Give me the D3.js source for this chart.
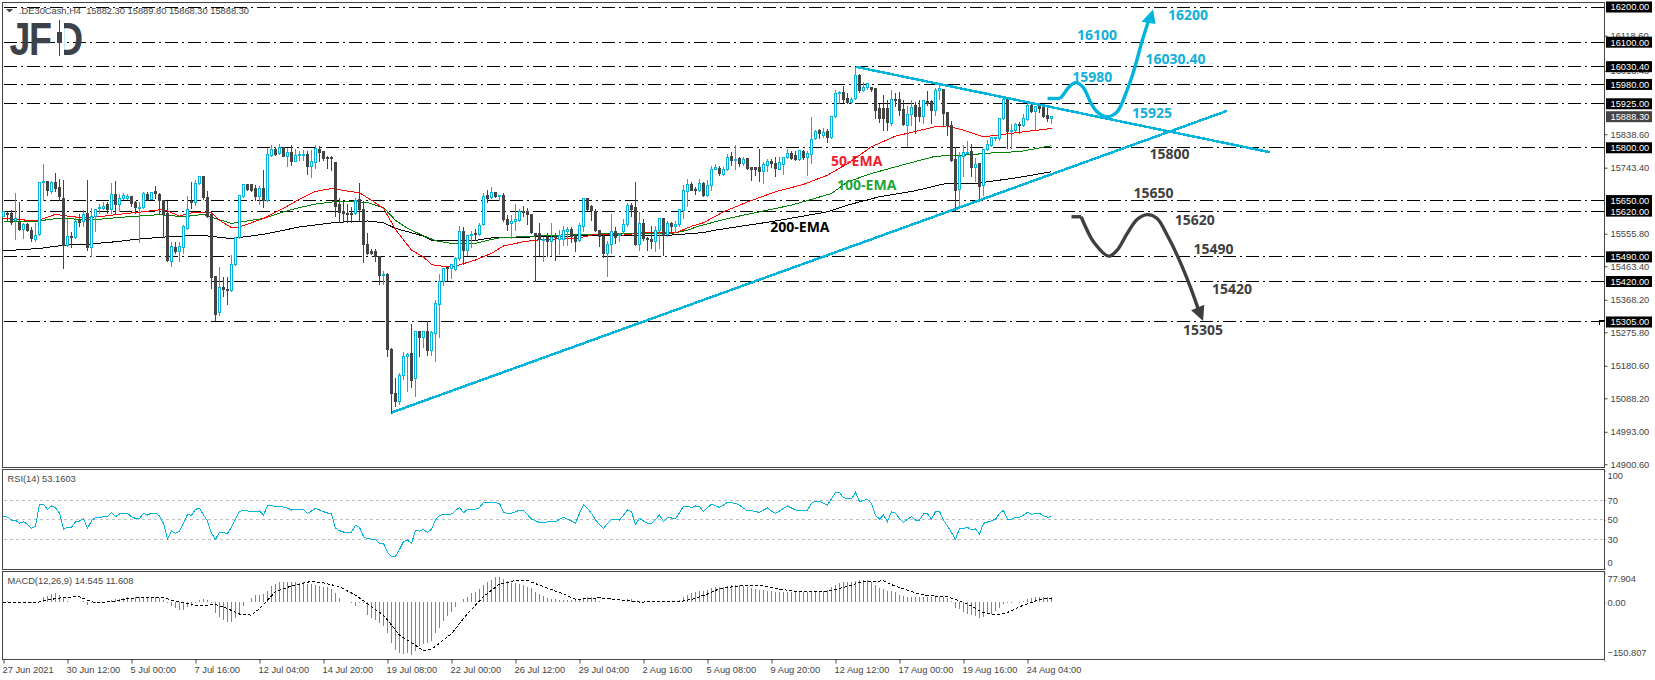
<!DOCTYPE html>
<html>
<head>
<meta charset="utf-8">
<title>DE30Cash H4</title>
<script src="https://cdn.jsdelivr.net/npm/d3@7"></script>
<style>
  html, body { margin: 0; padding: 0; background: #fff; }
  svg { display: block; }
  text { font-family: "Liberation Sans", sans-serif; }
</style>
</head>
<body>
<div id="chart"></div>
<script>
/* candles, one entry per H4 bar */
const opens = [
  15606,15613,15613,15594,15587,15568,15583,15566,15540,15553,
  15700,15704,15675,15700,15688,15656,15523,15549,15544,15592,
  15591,15613,15517,15604,15627,15627,15639,15625,15667,15639,
  15655,15656,15661,15645,15628,15630,15668,15654,15675,15668,
  15651,15613,15476,15518,15504,15518,15572,15648,15645,15699,
  15717,15659,15609,15433,15331,15403,15398,15395,15468,15545,
  15661,15697,15695,15684,15661,15684,15649,15779,15796,15784,
  15800,15776,15787,15762,15778,15780,15782,15746,15759,15796,
  15788,15772,15771,15759,15640,15619,15613,15613,15613,15653,
  15625,15525,15504,15505,15492,15437,15441,15227,15103,15080,
  15153,15206,15215,15144,15277,15261,15277,15223,15272,15355,
  15419,15459,15457,15455,15485,15563,15509,15551,15555,15553,
  15583,15664,15659,15674,15662,15665,15597,15584,15590,15594,
  15618,15620,15611,15556,15556,15536,15545,15534,15547,15539,
  15539,15561,15568,15552,15536,15575,15656,15632,15620,15566,
  15549,15500,15524,15563,15552,15561,15581,15636,15630,15524,
  15585,15543,15540,15533,15564,15599,15553,15585,15575,15582,
  15623,15675,15696,15682,15678,15699,15664,15694,15738,15741,
  15725,15737,15774,15765,15770,15754,15770,15744,15744,15744,
  15732,15751,15760,15755,15739,15753,15773,15784,15779,15768,
  15789,15773,15782,15826,15848,15834,15846,15829,15888,15955,
  15957,15939,15928,15939,16004,15964,15970,15970,15968,15913,
  15912,15913,15869,15937,15937,15910,15864,15895,15919,15915,
  15888,15931,15931,15905,15962,15967,15900,15863,15767,15682,
  15774,15786,15790,15743,15755,15693,15795,15806,15826,15827,
  15883,15937,15845,15848,15867,15862,15881,15919,15902,15917,
  15917,15892,15882.3
];
const highs = [
  15621,15618,15625,15672,15646,15587,15587,15575,15587,15702,
  15755,15704,15708,15729,15713,15710,15599,15561,15604,15613,
  15625,15710,15630,15627,15642,15648,15648,15700,15708,15670,
  15672,15670,15663,15651,15646,15675,15675,15675,15694,15672,
  15653,15651,15533,15533,15533,15583,15663,15703,15710,15722,
  15719,15678,15613,15435,15463,15433,15433,15498,15547,15665,
  15699,15699,15697,15696,15694,15738,15801,15808,15803,15812,
  15805,15800,15808,15798,15791,15795,15793,15795,15810,15806,
  15792,15779,15779,15761,15659,15647,15642,15632,15659,15701,
  15651,15560,15514,15514,15492,15452,15447,15233,15146,15161,
  15222,15218,15300,15279,15281,15281,15310,15280,15369,15443,
  15459,15462,15471,15490,15579,15575,15554,15564,15571,15587,
  15673,15682,15691,15676,15668,15674,15609,15611,15642,15627,
  15637,15630,15613,15558,15589,15549,15558,15589,15560,15568,
  15580,15577,15575,15555,15587,15659,15659,15640,15627,15568,
  15556,15536,15613,15575,15558,15600,15644,15644,15705,15620,
  15599,15547,15580,15580,15602,15602,15592,15590,15592,15627,
  15697,15713,15703,15689,15713,15703,15710,15751,15755,15751,
  15746,15784,15789,15808,15774,15774,15773,15748,15746,15798,
  15760,15770,15770,15774,15776,15776,15798,15793,15793,15795,
  15795,15793,15890,15852,15855,15858,15855,15893,15966,15962,
  15978,15956,15945,16030,16010,15988,15985,15972,15970,15926,
  15950,15936,15966,15956,15959,15937,15919,15937,15931,15936,
  15936,15964,15936,15971,15983,15967,15902,15877,15805,15789,
  15808,15822,15812,15773,15755,15798,15824,15829,15833,15885,
  15947,15945,15869,15871,15874,15898,15928,15926,15919,15924,
  15919,15921,15889.8
];
const lows = [
  15604,15594,15583,15540,15566,15541,15561,15533,15533,15551,
  15651,15665,15670,15675,15651,15457,15520,15517,15541,15575,
  15575,15507,15490,15561,15613,15625,15613,15613,15613,15618,
  15653,15653,15632,15613,15530,15627,15651,15653,15656,15613,
  15545,15476,15463,15500,15476,15500,15568,15627,15637,15697,
  15653,15602,15400,15310,15324,15376,15355,15393,15466,15542,
  15659,15680,15676,15649,15640,15630,15647,15774,15779,15782,
  15774,15746,15751,15760,15763,15765,15725,15715,15741,15760,
  15763,15741,15735,15604,15587,15587,15587,15587,15611,15594,
  15473,15498,15498,15476,15412,15412,15206,15046,15066,15071,
  15142,15108,15120,15092,15208,15232,15210,15210,15194,15262,
  15408,15424,15428,15452,15481,15469,15495,15518,15537,15551,
  15579,15644,15655,15659,15649,15591,15564,15541,15564,15590,
  15606,15583,15556,15419,15495,15476,15490,15495,15481,15498,
  15523,15523,15530,15504,15533,15561,15623,15594,15561,15520,
  15488,15435,15501,15528,15533,15556,15575,15606,15522,15509,
  15537,15509,15514,15504,15515,15494,15547,15561,15558,15577,
  15598,15632,15678,15668,15675,15661,15661,15680,15737,15722,
  15721,15735,15751,15737,15748,15751,15738,15708,15722,15703,
  15699,15732,15744,15718,15737,15725,15770,15767,15765,15765,
  15767,15722,15755,15824,15827,15829,15814,15827,15886,15926,
  15928,15926,15926,15936,15956,15959,15966,15959,15883,15871,
  15848,15848,15864,15917,15893,15864,15805,15864,15841,15874,
  15869,15921,15869,15893,15936,15860,15836,15762,15621,15627,
  15718,15786,15718,15705,15651,15665,15791,15803,15820,15822,
  15879,15798,15798,15846,15841,15860,15877,15900,15852,15900,
  15886,15874,15868.3
];
const closes = [
  15618,15611,15587,15599,15568,15583,15564,15541,15552,15702,
  15704,15678,15700,15684,15661,15523,15548,15545,15591,15589,
  15610,15518,15604,15625,15629,15634,15625,15667,15640,15656,
  15664,15661,15642,15629,15630,15669,15654,15673,15670,15649,
  15611,15479,15520,15504,15520,15575,15625,15645,15699,15717,
  15659,15606,15430,15327,15403,15398,15396,15468,15545,15664,
  15697,15682,15678,15661,15684,15649,15781,15795,15782,15800,
  15776,15786,15762,15778,15782,15782,15746,15761,15799,15786,
  15769,15769,15769,15634,15617,15613,15611,15611,15651,15625,
  15524,15500,15500,15490,15436,15441,15226,15103,15080,15153,
  15208,15213,15139,15277,15261,15277,15223,15276,15357,15419,
  15457,15456,15468,15485,15563,15509,15551,15554,15554,15579,
  15662,15656,15673,15661,15665,15597,15583,15591,15596,15620,
  15617,15609,15560,15552,15539,15539,15533,15545,15545,15552,
  15566,15568,15549,15533,15580,15656,15625,15621,15566,15547,
  15501,15526,15562,15545,15554,15582,15636,15625,15524,15585,
  15542,15539,15533,15566,15599,15552,15585,15575,15581,15626,
  15679,15696,15680,15680,15699,15663,15694,15738,15745,15727,
  15738,15773,15765,15768,15754,15768,15741,15738,15738,15732,
  15753,15760,15755,15740,15758,15773,15784,15770,15768,15791,
  15773,15784,15824,15846,15841,15844,15828,15890,15955,15958,
  15938,15928,15937,16004,15962,15972,15983,15966,15907,15882,
  15883,15871,15937,15934,15907,15866,15895,15915,15888,15888,
  15933,15926,15905,15964,15969,15898,15863,15765,15680,15776,
  15787,15787,15743,15753,15691,15795,15808,15828,15828,15883,
  15937,15846,15848,15867,15864,15883,15919,15902,15917,15912,
  15890,15882,15888.3
];

/* moving averages, read at the bars where they bend */
const ema50Bars = [0,4,8,10,13,17,20,24,28,34,37,40,44,47,52,54,57,59,65,70,74,78,82,86,89,92,95,98,102,105,107,110,113,118,122,125,130,135,143,148,155,160,168,172,175,180,186,193,200,206,211,217,223,233,236,240,245,252,262];
const ema50Values = [15599,15596,15592,15599,15611,15604,15602,15604,15610,15617,15621,15625,15606,15615,15615,15594,15573,15575,15599,15628,15654,15676,15684,15677,15672,15651,15628,15568,15509,15490,15468,15463,15464,15481,15500,15521,15533,15540,15542,15554,15552,15559,15558,15577,15587,15618,15646,15675,15696,15722,15755,15803,15833,15860,15862,15850,15831,15841,15855];
const ema100Bars = [0,4,8,10,14,20,24,31,39,45,50,53,57,62,65,70,74,78,83,87,91,95,98,101,105,108,112,118,121,124,134,144,155,167,171,174,181,189,197,207,211,217,226,233,240,248,254,262];
const ema100Values = [15592,15590,15590,15594,15600,15596,15597,15604,15610,15604,15611,15599,15585,15594,15599,15618,15630,15640,15647,15648,15644,15630,15594,15571,15550,15536,15528,15528,15537,15544,15550,15554,15556,15556,15566,15578,15599,15618,15637,15670,15703,15727,15755,15776,15779,15786,15789,15806];
const ema200Bars = [0,9,15,21,28,34,41,49,57,65,74,83,87,91,95,98,105,107,111,118,122,134,144,155,167,175,178,186,192,206,211,219,228,235,244,254,262];
const ema200Values = [15507,15514,15523,15526,15533,15541,15547,15552,15542,15554,15575,15588,15590,15592,15587,15571,15549,15537,15536,15537,15544,15547,15550,15550,15552,15559,15566,15580,15590,15618,15637,15661,15678,15697,15700,15716,15732];

/* RSI(14), one value per bar */
const rsiValues = [
  53.5,52.8,49.7,49.4,46.3,48,45.3,41.2,43.6,65.8,
  65.8,60.7,64.1,62.4,56.6,40.5,42.2,42.2,48,48.7,
  51.1,41.2,49,52.5,52.5,53.1,53.5,57.6,53.1,55.9,
  56.6,56.6,53.1,51.4,51.4,56.6,54.8,56.9,56.9,53.8,
  46.3,30.2,38.4,36,38.1,46.3,55.5,54.5,60.7,62,
  54.8,48.7,36,29.9,37.4,36.7,36,42.2,50.7,58.6,
  59.6,59,58.6,58.3,59,54.8,64.4,64.4,63.4,63.7,
  63,62,60,60.7,60.7,60.7,56.6,59,61.7,60,
  58.3,56.9,55.9,41.2,38.8,37.4,37.4,37.4,44.2,42.2,
  32.6,30.6,30.2,29.9,25.8,25.8,16.5,12.1,12.4,19.6,
  27.5,29.2,25.8,38.8,38.4,40.1,37,40.5,49.7,54.5,
  55.5,55.5,55.9,59.3,62.7,57.2,60.7,61,60.7,62.4,
  67.8,68.2,67.8,67.5,66.8,57.6,56.6,56.6,58.3,59.6,
  59.3,55.2,50.7,49,47.3,47.3,47.7,47.7,48,50.4,
  52.5,50.7,48.7,46.3,56.6,65.5,61.7,56.6,49.7,45.3,
  41.2,46.3,50.4,50.1,49.7,54.8,60,58.3,45.3,51.4,
  48.7,46.3,46.3,50.4,54.8,48,52.5,51.8,51.1,57.2,
  64.1,64.1,62.4,64.1,63.4,58.3,62.4,66.1,64.4,62.7,
  65.1,67.8,67.5,66.8,64.8,61.7,59.3,59.3,58.3,57.6,
  60,62,59,56.6,59,61.7,64.1,62,60,59.3,
  59.3,60,66.8,68.9,68.9,66.8,65.1,71.6,78.1,78.1,
  72.6,71.6,71.3,78.1,68.5,69.9,70.9,66.8,54.5,50.7,
  54.8,48,58.3,56.6,51.4,47.3,50.4,53.1,49.7,49.7,
  55.9,55.9,50.7,58.3,58.6,49.7,43.6,36.7,29.9,41.2,
  41.2,42.2,39.5,40.5,35.4,46.3,47.7,49,50.4,56.6,
  59.7,50.4,50.4,52.5,52.5,54.9,57.6,55.6,56.6,56.6,
  53.9,52.5,53.2
];

/* MACD(12,26,9) histogram per bar, signal line where it bends */
const macdValues = [
  0.5,3.5,0.5,0.5,0.5,0.5,0.5,-2.6,-2.6,4.3,
  13,16.5,21.7,23.4,19,14.7,4.3,0.5,0.5,1.7,
  4.3,-6.9,-2.6,-2.6,-0.9,-0.9,2.6,6,7.8,9.5,
  11.3,13,12.1,13,13,13,13.9,13.9,13.9,12.1,
  6,-0.9,-9.5,-15.6,-19.9,-19.9,-11.3,-9.5,-0.9,6,
  7.8,6,-0.9,-28.6,-37.2,-45.9,-51,-50,-41.6,-26.8,
  -9.5,0.5,10.4,18.2,19,21.7,30.3,42.4,46.8,53.7,
  53.7,53.7,53.7,53.7,49.4,52,47.6,46.8,45,42.4,
  40.7,39,35.5,23.4,12.1,1.7,0.5,-2.6,-9.5,-2.6,
  -2.6,-32.9,-41.6,-45.9,-54.6,-61.5,-80.5,-104.8,-123.8,-132.5,
  -134.2,-132.5,-136.8,-126.4,-113.4,-108.3,-104.8,-99.6,-80.5,-67.5,
  -47.6,-35.5,-24.2,-11.3,0.5,7.8,14.7,23.4,27.7,34.6,
  45,52,58,65,65,59.8,54.6,51,49.4,46.8,
  44.2,40.7,36.4,27.7,21.7,16.5,12.1,9.5,7.8,6,
  5.2,5.2,5.2,6,8.7,11.3,13.9,13.9,11.3,2.6,
  0.9,0.5,0.5,0.5,0.5,0.5,7.8,7.8,2.6,2.6,
  0.8,0.8,0.8,0.8,0.8,0.8,0.8,0.8,0.8,6,
  14.7,19,23.4,26.8,29.4,30.3,32,36.4,39,39.8,
  40.7,43.3,44.2,44.2,44.2,42.4,39.8,37.2,34.6,32.9,
  31.2,29.4,28.6,27.7,26.8,26.8,26.8,26.8,26.8,26.8,
  26.8,26.8,26.8,28.6,29.4,30.3,32,40.7,45,50.2,
  52,52,53.7,56.3,58,58,58,52.8,45,36.4,
  34.6,30.3,29.4,26.8,19,17.3,14.7,13.9,13.9,13.9,
  14.7,14.7,14.7,14.7,14.7,14.7,10.4,4.3,-15.6,-17.3,
  -24,-29,-33,-35,-40,-37,-31,-29,-23,-15,
  -4,-2,-1,0.5,-2,3.5,8,10.4,13,14,
  14,15,14.545
];
const signalBars = [0,4,8,10,13,15,19,21,23,28,31,36,40,43,47,48,53,56,59,62,64,68,72,77,80,84,88,91,95,99,103,105,107,112,116,120,124,128,131,135,140,143,146,149,153,159,165,169,172,176,179,184,190,194,198,206,210,215,220,223,228,231,236,240,242,244,245,247,249,251,253,255,257,259,261,262];
const signalValues = [-1,1,-1,4,10,13,15,6,-1,3,10,14,13,3,-4,-9,-5,-16,-30,-33,-16,28,43,55,51,41,19,-3,-33,-85,-111,-126,-122,-81,-29,15,48,57,57,41,22,8,10,12,8,1,2,2,8,22,36,43,43,35,29,29,39,55,56,42,25,18,15,0,-9,-22,-26,-31,-31,-26,-16,-7,0,8,10.4,11.608];

/* horizontal levels and right hand scales */
const levels = [16200,16100,16030.4,15980,15925,15800,15650,15620,15490,15420,15305];
const priceTicks = [16118.6,16018.4,15838.6,15743.4,15555.8,15463.4,15368.2,15275.8,15180.6,15088.2,14993,14900.6];
const lastPrice = 15888.3;
const rsiTicks = [100,70,50,30,0];
const macdTicks = [77.904,0,-150.807];
const timeBars = [0,16,32,48,64,80,96,112,128,144,160,176,192,208,224,240,256];
const timeLabels = ["27 Jun 2021","30 Jun 12:00","5 Jul 00:00","7 Jul 16:00","12 Jul 04:00","14 Jul 20:00","19 Jul 08:00","22 Jul 00:00","26 Jul 12:00","29 Jul 04:00","2 Aug 16:00","5 Aug 08:00","9 Aug 20:00","12 Aug 12:00","17 Aug 00:00","19 Aug 16:00","24 Aug 04:00"];

/* trend lines and the two scenario paths, in bar / price terms */
const fallLineBars = [213.1,316.7];
const fallLinePrices = [16030,15787];
const riseLineBars = [97.1,305.9];
const riseLinePrices = [15048,15905];
const upPathBars = [261,264.2,265.2,266.3,268,269.9,271.9,273.4,275.9,278.4,280.9,282.5,284.6,286.3];
const upPathPrices = [15940,15940,15955,15972,15985,15972,15926,15902,15888,15902,15964,16016,16101,16163];
const upHeadBars = [287.4,284.5,288];
const upHeadPrices = [16193,16158,16152];
const downPathBars = [267,269.4,270.9,272.5,276.3,278.4,280.9,283.4,285.9,288.4,290.9,293.4,296.7,298.8];
const downPathPrices = [15604,15604,15566,15533,15492,15509,15556,15596,15610,15599,15552,15495,15405,15338];
const downHeadBars = [299.9,296.9,300.2];
const downHeadPrices = [15308,15338,15354];

const blueNotes = ["16200","16100","16030.40","15980","15925"];
const blueNoteBars = [291.1,268.4,285.5,267.2,282.1];
const blueNotePrices = [16163,16106,16038,15988,15886];
const darkNotes = ["15800","15650","15620","15490","15420","15305"];
const darkNoteBars = [286.5,282.5,292.8,297.5,302.1,294.9];
const darkNotePrices = [15769,15658,15580,15498,15384,15268];
const emaNotes = ["50-EMA","100-EMA","200-EMA"];
const emaNoteBars = [206.9,208.4,191.7];
const emaNotePrices = [15749,15680,15561];

const width = 1655;
const height = 680;
const left = 2.5;
const right = 1604.5;

const cyan = "#00b4dc";
const dark = "#444444";
const axisText = "#444444";

const svg = d3
  .select("#chart")
  .append("svg")
  .attr("width", width)
  .attr("height", height);

const xBar = d3.scaleLinear().domain([0, 400]).range([3.5, 1603.5]);
const yPrice = d3.scaleLinear().domain([14900.6, 16200]).range([464.3, 7]);
const yRsi = d3.scaleLinear().domain([0, 100]).range([568.5, 471]);
const yMacd = d3.scaleLinear().domain([-150.807, 77.904]).range([660.5, 572.5]);

const snap = (v) => Math.round(v - 0.5) + 0.5;

function polyline(bars, values, yScale, curve) {
  const line = d3
    .line()
    .x((d) => xBar(d[0]))
    .y((d) => yScale(d[1]));
  if (curve) line.curve(curve);
  return line(bars.map((b, i) => [b, values[i]]));
}

/* panel frames */
const panels = [
  [2.5, 467.5],
  [469.5, 569.5],
  [571.5, 659.5],
];
svg
  .selectAll("rect.panel")
  .data(panels)
  .join("rect")
  .attr("class", "panel")
  .attr("x", left)
  .attr("y", (d) => d[0])
  .attr("width", right - left)
  .attr("height", (d) => d[1] - d[0])
  .attr("fill", "none")
  .attr("stroke", dark)
  .attr("stroke-width", 1);

/* level lines */
svg
  .selectAll("line.level")
  .data(levels)
  .join("line")
  .attr("class", "level")
  .attr("x1", left + 1)
  .attr("x2", right)
  .attr("y1", (d) => snap(yPrice(d)))
  .attr("y2", (d) => snap(yPrice(d)))
  .attr("stroke", "#000")
  .attr("stroke-dasharray", "13,4,2,4")
  .attr("shape-rendering", "crispEdges");

/* EMAs sit under the candles */
[
  [ema200Bars, ema200Values, "#000000"],
  [ema100Bars, ema100Values, "#008000"],
  [ema50Bars, ema50Values, "#ff0000"],
].forEach(function ([bars, values, color]) {
  svg
    .append("path")
    .attr("d", polyline(bars, values, yPrice))
    .attr("fill", "none")
    .attr("stroke", color)
    .attr("stroke-width", 1)
    .attr("shape-rendering", "crispEdges");
});

/* candles */
const candleData = opens.map((o, i) => ({
  i: i,
  o: o,
  h: highs[i],
  l: lows[i],
  c: closes[i],
}));
const candle = svg
  .append("g")
  .attr("shape-rendering", "crispEdges")
  .selectAll("g")
  .data(candleData)
  .join("g");
candle
  .append("line")
  .attr("x1", (d) => xBar(d.i))
  .attr("x2", (d) => xBar(d.i))
  .attr("y1", (d) => snap(yPrice(d.h)))
  .attr("y2", (d) => snap(yPrice(d.l)))
  .attr("stroke", (d) => (d.c >= d.o ? cyan : dark));
candle
  .append("rect")
  .attr("x", (d) => xBar(d.i) - 1)
  .attr("width", 2)
  .attr("y", (d) => snap(yPrice(Math.max(d.o, d.c))))
  .attr("height", (d) =>
    Math.max(1, snap(yPrice(Math.min(d.o, d.c))) - snap(yPrice(Math.max(d.o, d.c))))
  )
  .attr("fill", (d) => (d.c >= d.o ? "#fff" : dark))
  .attr("stroke", (d) => (d.c >= d.o ? cyan : dark));

/* trend lines */
[
  [fallLineBars, fallLinePrices],
  [riseLineBars, riseLinePrices],
].forEach(function ([bars, prices]) {
  svg
    .append("path")
    .attr("d", polyline(bars, prices, yPrice))
    .attr("fill", "none")
    .attr("stroke", cyan)
    .attr("stroke-width", 2.5)
    .attr("shape-rendering", "crispEdges");
});

/* scenario arrows */
[
  [upPathBars, upPathPrices, upHeadBars, upHeadPrices, cyan],
  [downPathBars, downPathPrices, downHeadBars, downHeadPrices, "#3f3f3f"],
].forEach(function ([bars, prices, headBars, headPrices, color]) {
  svg
    .append("path")
    .attr("d", polyline(bars.slice(0, 2), prices.slice(0, 2), yPrice))
    .attr("fill", "none")
    .attr("stroke", color)
    .attr("stroke-width", 3.4);
  svg
    .append("path")
    .attr("d", polyline(bars.slice(1), prices.slice(1), yPrice, d3.curveCatmullRom))
    .attr("fill", "none")
    .attr("stroke", color)
    .attr("stroke-width", 3.4);
  svg
    .append("path")
    .attr("d", polyline(headBars, headPrices, yPrice) + "Z")
    .attr("fill", color);
});

/* notes on the chart */
function notes(labels, bars, prices, color) {
  svg
    .append("g")
    .selectAll("text")
    .data(labels)
    .join("text")
    .attr("x", (d, i) => xBar(bars[i]))
    .attr("y", (d, i) => yPrice(prices[i]))
    .attr("fill", color)
    .style("font-family", '"Open Sans", sans-serif')
    .style("font-weight", 700)
    .style("font-size", "14px")
    .text((d) => d);
}
notes(blueNotes, blueNoteBars, blueNotePrices, "#12b0d8");
notes(darkNotes, darkNoteBars, darkNotePrices, "#3f3f3f");
notes(emaNotes.slice(0, 1), emaNoteBars.slice(0, 1), emaNotePrices.slice(0, 1), "#ee1c2e");
notes(emaNotes.slice(1, 2), emaNoteBars.slice(1, 2), emaNotePrices.slice(1, 2), "#22a53c");
notes(emaNotes.slice(2), emaNoteBars.slice(2), emaNotePrices.slice(2), "#000");

/* price axis */
const gPrice = svg
  .append("g")
  .attr("transform", `translate(${right},0)`)
  .call(
    d3
      .axisRight(yPrice)
      .tickValues(priceTicks)
      .tickSize(3)
      .tickPadding(3)
      .tickFormat(d3.format(".2f"))
  )
  .call((g) => g.select(".domain").remove());
gPrice.selectAll("line").attr("stroke", dark);
gPrice
  .selectAll("text")
  .attr("fill", axisText)
  .style("font-family", '"Liberation Sans", sans-serif')
  .style("font-size", "9.3px");

/* boxed level prices */
const boxes = svg
  .append("g")
  .selectAll("g")
  .data(levels.map((p) => ({ p: p, fill: "#000" })).concat([{ p: lastPrice, fill: dark }]))
  .join("g");
boxes
  .append("rect")
  .attr("x", 1606)
  .attr("width", 46)
  .attr("y", (d) => yPrice(d.p) - 5.5)
  .attr("height", 11)
  .attr("fill", (d) => d.fill);
boxes
  .append("text")
  .attr("x", 1610.5)
  .attr("y", (d) => yPrice(d.p) + 3.4)
  .attr("fill", "#fff")
  .style("font-size", "9.3px")
  .text((d) => d3.format(".2f")(d.p));

/* small bracket next to the lowest level */
svg
  .append("path")
  .attr("d", `M${right - 5},${snap(yPrice(15305)) + 3}V${snap(yPrice(15305)) - 1}H${right}`)
  .attr("fill", "none")
  .attr("stroke", "#000")
  .attr("shape-rendering", "crispEdges");

/* RSI panel */
svg
  .selectAll("line.rsilevel")
  .data([70, 50, 30])
  .join("line")
  .attr("class", "rsilevel")
  .attr("x1", left + 1)
  .attr("x2", right)
  .attr("y1", (d) => snap(yRsi(d)))
  .attr("y2", (d) => snap(yRsi(d)))
  .attr("stroke", "#c0c0c0")
  .attr("stroke-dasharray", "3,3")
  .attr("shape-rendering", "crispEdges");
svg
  .append("path")
  .attr("d", polyline(d3.range(rsiValues.length), rsiValues, yRsi))
  .attr("fill", "none")
  .attr("stroke", cyan)
  .attr("stroke-width", 1)
  .attr("shape-rendering", "crispEdges");

const gRsi = svg
  .append("g")
  .attr("transform", `translate(${right},0)`)
  .call(d3.axisRight(yRsi).tickValues(rsiTicks).tickSize(1).tickPadding(2))
  .call((g) => g.select(".domain").remove());
gRsi.selectAll("line").attr("stroke", dark);
gRsi
  .selectAll("text")
  .attr("fill", axisText)
  .attr("dy", (d) => (d === 100 ? "0.85em" : d === 0 ? "-0.3em" : "0.32em"))
  .style("font-family", '"Liberation Sans", sans-serif')
  .style("font-size", "9.3px");

svg
  .append("text")
  .attr("x", 7.5)
  .attr("y", 481.5)
  .attr("fill", axisText)
  .style("font-size", "9.3px")
  .text("RSI(14) 53.1603");

/* MACD panel */
svg
  .append("g")
  .attr("shape-rendering", "crispEdges")
  .selectAll("line")
  .data(macdValues)
  .join("line")
  .attr("x1", (d, i) => xBar(i))
  .attr("x2", (d, i) => xBar(i))
  .attr("y1", yMacd(0))
  .attr("y2", (d) => yMacd(d))
  .attr("stroke", "#14aed2");
svg
  .append("path")
  .attr("d", polyline(signalBars, signalValues, yMacd))
  .attr("fill", "none")
  .attr("stroke", "#000")
  .attr("stroke-dasharray", "3,2")
  .attr("shape-rendering", "crispEdges");

const gMacd = svg
  .append("g")
  .attr("transform", `translate(${right},0)`)
  .call(
    d3
      .axisRight(yMacd)
      .tickValues(macdTicks)
      .tickSize(1)
      .tickPadding(2)
      .tickFormat((d) => (d === 0 ? "0.00" : d3.format(".3f")(d)))
  )
  .call((g) => g.select(".domain").remove());
gMacd.selectAll("line").attr("stroke", dark);
gMacd
  .selectAll("text")
  .attr("fill", axisText)
  .attr("dy", (d) => (d > 0 ? "0.95em" : d < 0 ? "-0.5em" : "0.32em"))
  .style("font-family", '"Liberation Sans", sans-serif')
  .style("font-size", "9.3px");

svg
  .append("text")
  .attr("x", 7.5)
  .attr("y", 583.5)
  .attr("fill", axisText)
  .style("font-size", "9.3px")
  .text("MACD(12,26,9) 14.545 11.608");

/* time axis */
const gTime = svg
  .append("g")
  .attr("transform", "translate(0,659.5)")
  .call(
    d3
      .axisBottom(xBar)
      .tickValues(timeBars)
      .tickSize(4)
      .tickPadding(3)
      .tickFormat((d, i) => timeLabels[i])
  )
  .call((g) => g.select(".domain").remove());
gTime.selectAll("line").attr("stroke", dark);
gTime
  .selectAll("text")
  .attr("text-anchor", "start")
  .attr("dx", "-1.5")
  .attr("fill", axisText)
  .style("font-family", '"Liberation Sans", sans-serif')
  .style("font-size", "9.3px");

/* header */
svg
  .append("path")
  .attr("d", "M6,9H13L9.5,12.5Z")
  .attr("fill", dark);
svg
  .append("text")
  .attr("x", 19)
  .attr("y", 14)
  .attr("fill", axisText)
  .style("font-size", "9.3px")
  .style("white-space", "pre")
  .text(".DE30Cash,H4  15882.30 15889.80 15868.30 15888.30");

/* logo, letters narrowed and set apart */
svg
  .append("text")
  .attr("transform", "translate(0,55) scale(0.8,1)")
  .attr("x", "11.75 36.25 70")
  .attr("y", 0)
  .attr("fill", "#3d424a")
  .style("font-weight", 700)
  .style("font-size", "47px")
  .text("JFD");
svg.append("rect").attr("x", 55).attr("y", 20).attr("width", 9).attr("height", 36).attr("fill", "#fff");
svg.append("rect").attr("x", 59).attr("y", 20).attr("width", 1).attr("height", 36).attr("fill", "#3d424a");
svg.append("rect").attr("x", 57).attr("y", 32).attr("width", 5).attr("height", 11).attr("fill", "#3d424a");
</script>
</body>
</html>
